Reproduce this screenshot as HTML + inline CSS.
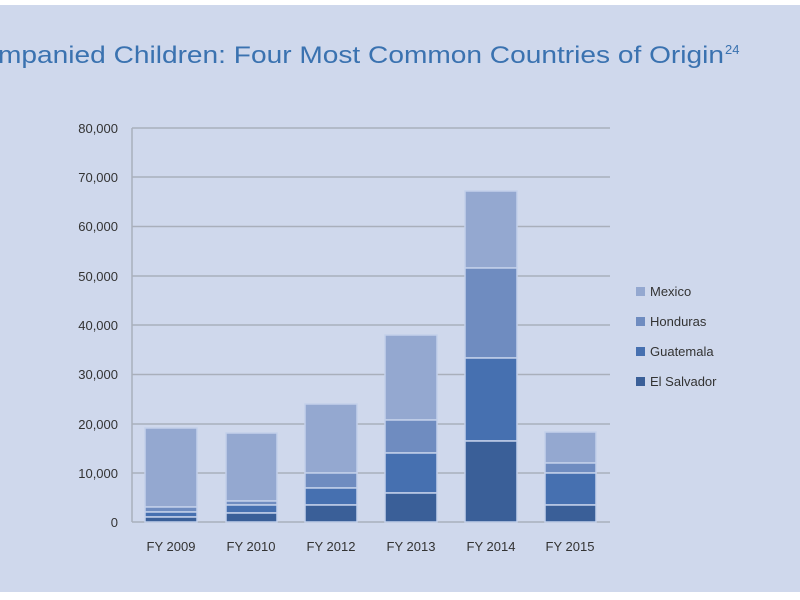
<!DOCTYPE html><html><head><style>body{margin:0;background:#fff}svg{display:block}</style></head><body>
<svg width="800" height="600" xmlns="http://www.w3.org/2000/svg" font-family="Liberation Sans, sans-serif">
<rect x="0" y="5" width="800" height="587" fill="#cfd8ec"/>
<text x="-2" y="63" font-size="24" fill="#3a72b0" textLength="726" lengthAdjust="spacingAndGlyphs">mpanied Children: Four Most Common Countries of Origin</text>
<text x="725" y="54" font-size="13" fill="#3a72b0">24</text>
<g stroke="#a9afbb" stroke-width="1.5">
<line x1="132" x2="610" y1="128" y2="128"/><line x1="132" x2="610" y1="177" y2="177"/><line x1="132" x2="610" y1="226.5" y2="226.5"/><line x1="132" x2="610" y1="276" y2="276"/><line x1="132" x2="610" y1="325" y2="325"/><line x1="132" x2="610" y1="374.5" y2="374.5"/><line x1="132" x2="610" y1="424" y2="424"/><line x1="132" x2="610" y1="473" y2="473"/><line x1="132" x2="610" y1="522" y2="522"/><line x1="132" x2="132" y1="128" y2="522"/>
</g>
<g font-size="13" fill="#333" text-anchor="end">
<text x="118" y="133">80,000</text><text x="118" y="182">70,000</text><text x="118" y="231">60,000</text><text x="118" y="281">50,000</text><text x="118" y="330">40,000</text><text x="118" y="379">30,000</text><text x="118" y="429">20,000</text><text x="118" y="478">10,000</text><text x="118" y="527">0</text>
</g>
<g stroke="#c3d0ea" stroke-width="1.5">
<rect x="145" y="428" width="52" height="79" fill="#94a8d0"/><rect x="145" y="507" width="52" height="5" fill="#6f8cc0"/><rect x="145" y="512" width="52" height="5" fill="#4670b0"/><rect x="145" y="517" width="52" height="5" fill="#3a5f98"/>
<rect x="226" y="433" width="51" height="68" fill="#94a8d0"/><rect x="226" y="501" width="51" height="4" fill="#6f8cc0"/><rect x="226" y="505" width="51" height="8" fill="#4670b0"/><rect x="226" y="513" width="51" height="9" fill="#3a5f98"/>
<rect x="305" y="404" width="52" height="69" fill="#94a8d0"/><rect x="305" y="473" width="52" height="15" fill="#6f8cc0"/><rect x="305" y="488" width="52" height="17" fill="#4670b0"/><rect x="305" y="505" width="52" height="17" fill="#3a5f98"/>
<rect x="385" y="335" width="52" height="85" fill="#94a8d0"/><rect x="385" y="420" width="52" height="33" fill="#6f8cc0"/><rect x="385" y="453" width="52" height="40" fill="#4670b0"/><rect x="385" y="493" width="52" height="29" fill="#3a5f98"/>
<rect x="465" y="191" width="52" height="77" fill="#94a8d0"/><rect x="465" y="268" width="52" height="90" fill="#6f8cc0"/><rect x="465" y="358" width="52" height="83" fill="#4670b0"/><rect x="465" y="441" width="52" height="81" fill="#3a5f98"/>
<rect x="545" y="432" width="51" height="31" fill="#94a8d0"/><rect x="545" y="463" width="51" height="10" fill="#6f8cc0"/><rect x="545" y="473" width="51" height="32" fill="#4670b0"/><rect x="545" y="505" width="51" height="17" fill="#3a5f98"/>
</g>
<g font-size="13" fill="#333" text-anchor="middle">
<text x="171" y="551">FY 2009</text><text x="251" y="551">FY 2010</text><text x="331" y="551">FY 2012</text><text x="411" y="551">FY 2013</text><text x="491" y="551">FY 2014</text><text x="570" y="551">FY 2015</text>
</g>
<g font-size="13" fill="#333">
<rect x="636" y="287" width="9" height="9" fill="#94a8d0"/><text x="650" y="296">Mexico</text>
<rect x="636" y="317" width="9" height="9" fill="#6f8cc0"/><text x="650" y="326">Honduras</text>
<rect x="636" y="347" width="9" height="9" fill="#4670b0"/><text x="650" y="356">Guatemala</text>
<rect x="636" y="377" width="9" height="9" fill="#3a5f98"/><text x="650" y="386">El Salvador</text>
</g>
</svg>
</body></html>
